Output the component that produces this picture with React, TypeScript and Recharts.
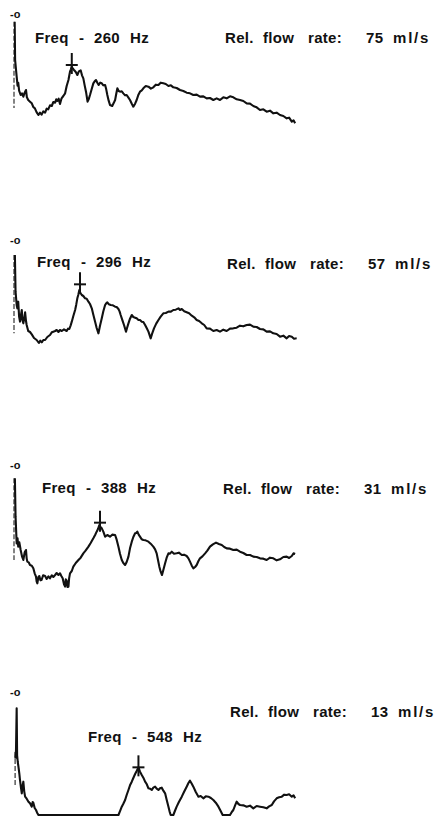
import React from 'react';
import { ComposedChart, Line, XAxis, YAxis, ReferenceDot, ReferenceLine } from 'recharts';

// Frequency (Hz) vs relative level (dB) traces
const trace260: [number, number][] = [
  [3,-2.3],[5,-13.8],[12,-18.8],[16,-21.5],[19,-20.6],[23,-23],[30,-24.3],[36,-23.8],[42,-24.8],[48,-23.6],[54,-22.8],[58,-25],[64,-25.8],[72,-26.3],[80,-26.8],[87,-27.9],[94,-28.3],[102,-29.5],[110,-30.3],[117,-29.6],[124,-30.2],[132,-29.2],[140,-29.6],[147,-28.4],[154,-28.6],[162,-27.4],[170,-27.6],[177,-26.4],[185,-26.6],[190,-25.6],[195,-26.1],[201,-25.4],[207,-27.0],[214,-25.3],[222,-24.6],[230,-23.8],[237,-21.6],[245,-19.8],[252,-17.3],[256,-16.6],[260,-15.8],[265,-16.4],[270,-16.8],[278,-17.4],[285,-18.3],[292,-17.2],[300,-16.9],[306,-18.4],[312,-19.3],[318,-21.4],[324,-23.3],[331,-26.3],[336,-25.6],[342,-24.3],[350,-22.4],[357,-20.8],[363,-20.2],[369,-19.8],[375,-20.6],[381,-21.3],[388,-20.6],[395,-20.8],[402,-21.4],[410,-21.3],[415,-22.6],[420,-24.3],[426,-26],[432,-27.3],[442,-27.6],[448,-26.8],[455,-25.8],[460,-24],[465,-22.3],[471,-23.1],[477,-23.3],[485,-23.2],[492,-23.8],[500,-24.4],[507,-24.3],[515,-25.1],[522,-25.8],[530,-26.9],[537,-27.8],[545,-26.9],[552,-25.8],[560,-24.2],[567,-23.3],[575,-22.9],[582,-22.3],[593,-21.6],[605,-21.8],[616,-22.4],[627,-22.0],[638,-21.2],[650,-21.3],[660,-20.6],[672,-20.8],[683,-21.0],[695,-21.6],[706,-21.4],[717,-22.0],[732,-22.2],[747,-22.8],[762,-23.1],[777,-23.6],[792,-23.8],[807,-24.3],[822,-24.2],[837,-24.8],[852,-24.7],[867,-25.3],[882,-25.2],[897,-25.8],[912,-25.3],[927,-25.8],[942,-25.0],[957,-25.3],[972,-24.7],[987,-25.0],[1002,-25.6],[1017,-25.8],[1032,-26.1],[1047,-26.8],[1062,-26.9],[1077,-27.6],[1092,-28.0],[1107,-28.8],[1122,-28.6],[1137,-29.3],[1152,-29.0],[1167,-29.8],[1182,-29.6],[1197,-30.3],[1212,-30.6],[1227,-31.3],[1238,-31.1],[1250,-32.3],[1258,-31.9],[1265,-32.8],
];

const trace296: [number, number][] = [
  [4,-4.5],[7,-15.5],[12,-19.5],[15,-20.5],[19,-18.5],[23,-23.0],[27,-24.5],[31,-22.6],[35,-21.0],[38,-24.0],[42,-25.0],[46,-23.5],[50,-21.7],[54,-24.3],[57,-25.5],[64,-27.3],[72,-27.6],[80,-28.3],[90,-29.4],[102,-30.0],[112,-30.9],[118,-30.2],[125,-30.7],[132,-30.0],[140,-30.0],[150,-29.1],[162,-28.5],[170,-27.7],[177,-27.5],[185,-27.3],[192,-27.0],[200,-27.6],[207,-27.0],[215,-27.3],[225,-26.8],[237,-27.3],[243,-26.6],[249,-26.7],[255,-25.6],[260,-24.5],[267,-22.8],[275,-21.0],[280,-19.4],[285,-17.5],[290,-16.3],[294,-15.0],[299,-15.9],[305,-16.5],[312,-16.8],[320,-17.5],[327,-17.6],[335,-18.5],[342,-19.2],[350,-20.5],[357,-22.4],[365,-24.5],[372,-26.4],[380,-28.0],[387,-25.7],[395,-23.5],[402,-21.4],[410,-19.5],[415,-19.0],[420,-18.7],[427,-19.3],[435,-19.5],[445,-19.6],[455,-20.0],[462,-20.1],[470,-20.7],[475,-21.4],[480,-22.5],[488,-24.1],[495,-25.5],[504,-27.5],[510,-26.1],[515,-25.0],[522,-23.6],[530,-22.5],[537,-23.1],[545,-23.3],[552,-23.5],[560,-24.0],[567,-24.0],[575,-24.5],[582,-24.6],[590,-25.5],[597,-26.4],[605,-27.5],[615,-29.5],[622,-28.0],[630,-26.5],[640,-25.1],[650,-24.0],[660,-23.0],[672,-22.0],[683,-21.9],[695,-21.5],[706,-21.5],[717,-21.0],[728,-20.9],[740,-20.5],[747,-21.0],[755,-20.7],[766,-21.4],[777,-21.7],[788,-22.0],[800,-22.7],[811,-23.2],[822,-24.0],[833,-24.3],[845,-25.0],[856,-25.5],[867,-26.5],[882,-26.6],[897,-27.3],[912,-27.0],[927,-27.5],[942,-26.9],[957,-27.3],[972,-26.6],[987,-26.5],[1002,-26.3],[1017,-25.7],[1032,-25.9],[1047,-25.5],[1062,-25.4],[1077,-26.0],[1092,-26.1],[1107,-26.7],[1122,-26.8],[1137,-27.5],[1152,-27.4],[1167,-28.0],[1182,-28.2],[1197,-29.0],[1212,-28.7],[1227,-29.5],[1238,-28.8],[1250,-29.0],[1260,-29.6],[1272,-29.5],
];

const trace388: [number, number][] = [
  [4,-4.0],[7,-15.5],[12,-23.5],[16,-22.0],[19,-24.5],[24,-23.2],[30,-25.5],[36,-27.4],[42,-28.5],[48,-26.2],[54,-25.5],[57,-28.0],[60,-29.0],[66,-29.2],[72,-30.0],[80,-30.2],[87,-31.0],[93,-32.5],[99,-33.5],[102,-35.0],[105,-35.5],[110,-33.6],[114,-33.3],[119,-34.6],[124,-34.5],[131,-33.1],[140,-33.3],[147,-34.2],[155,-33.4],[162,-34.0],[170,-33.1],[177,-33.6],[185,-33.0],[192,-32.4],[200,-33.0],[207,-32.5],[213,-33.3],[219,-34.0],[225,-35.8],[230,-36.5],[233,-34.3],[237,-34.7],[241,-36.6],[245,-36.5],[248,-34.0],[252,-32.5],[260,-31.8],[267,-30.5],[278,-29.4],[290,-28.5],[300,-27.8],[312,-26.5],[322,-25.7],[335,-24.5],[345,-23.4],[357,-22.0],[365,-21.0],[372,-20.0],[378,-19.2],[384,-18.0],[389,-18.6],[395,-19.0],[402,-20.0],[410,-21.5],[420,-21.0],[432,-21.5],[442,-20.9],[455,-21.0],[462,-22.4],[470,-24.5],[477,-26.6],[485,-28.5],[492,-29.4],[500,-30.0],[507,-29.1],[515,-27.5],[522,-25.0],[530,-23.0],[537,-21.6],[545,-20.5],[550,-20.4],[555,-20.0],[561,-20.9],[567,-21.5],[575,-22.3],[582,-22.5],[592,-22.6],[605,-23.0],[615,-23.6],[627,-24.5],[635,-25.3],[642,-26.5],[648,-28.5],[654,-30.5],[660,-32.0],[666,-33.0],[672,-31.5],[680,-29.5],[687,-27.8],[695,-26.5],[702,-26.6],[710,-26.0],[720,-26.6],[732,-26.5],[742,-26.3],[755,-27.0],[765,-26.9],[777,-27.3],[785,-28.0],[792,-29.0],[800,-30.2],[807,-31.0],[815,-30.6],[822,-30.0],[830,-28.8],[837,-28.0],[848,-27.4],[860,-26.5],[870,-25.7],[882,-24.5],[895,-23.8],[909,-23.3],[922,-23.7],[935,-24.0],[946,-24.6],[957,-25.0],[972,-25.1],[987,-25.5],[1002,-25.4],[1017,-26.0],[1032,-26.4],[1047,-27.0],[1062,-27.0],[1077,-27.5],[1092,-27.6],[1107,-28.0],[1122,-28.1],[1137,-28.5],[1152,-27.8],[1167,-28.0],[1182,-28.6],[1197,-28.3],[1212,-27.6],[1227,-27.5],[1238,-27.9],[1250,-27.3],[1258,-26.5],[1265,-26.7],
];

const trace548: [number, number][] = [
  [6,-20.0],[9,-17.5],[12,-4.9],[14,-19.0],[17,-21.0],[20,-22.4],[24,-24.5],[27,-26.4],[31,-28.5],[35,-30.4],[39,-28.0],[42,-26.9],[46,-29.8],[50,-31.4],[57,-32.0],[65,-32.9],[72,-33.4],[80,-34.4],[84,-33.0],[87,-33.2],[93,-34.8],[99,-35.4],[104,-36.2],[110,-36.9],[470,-36.9],[478,-35.6],[485,-34.4],[492,-33.5],[500,-32.4],[507,-30.9],[515,-29.4],[522,-28.0],[530,-26.9],[537,-25.8],[545,-24.6],[552,-23.7],[560,-22.6],[567,-23.9],[575,-24.9],[582,-25.7],[590,-26.9],[597,-27.6],[605,-28.9],[612,-29.0],[620,-29.4],[627,-28.7],[635,-28.4],[642,-29.0],[650,-29.4],[657,-28.9],[665,-28.7],[672,-29.6],[680,-30.4],[687,-32.3],[695,-34.4],[700,-35.8],[705,-36.9],[717,-36.9],[724,-35.7],[732,-34.4],[742,-33.0],[755,-31.4],[765,-30.0],[777,-28.4],[785,-27.3],[792,-26.6],[800,-27.5],[807,-28.4],[818,-30.0],[830,-31.4],[840,-31.2],[852,-31.9],[863,-31.3],[875,-31.4],[886,-31.8],[897,-32.4],[908,-33.2],[920,-34.4],[930,-35.7],[939,-36.9],[972,-36.9],[980,-36.0],[987,-35.4],[995,-34.0],[1002,-32.9],[1010,-33.6],[1017,-33.9],[1032,-34.0],[1047,-34.4],[1062,-34.1],[1077,-34.9],[1092,-34.2],[1107,-34.4],[1122,-34.6],[1137,-34.9],[1148,-34.3],[1160,-33.9],[1170,-32.8],[1182,-31.9],[1193,-31.6],[1205,-31.4],[1216,-30.8],[1227,-30.9],[1238,-30.7],[1250,-31.4],[1258,-31.0],[1265,-31.9],
];

const peakFreqLabels = ['260', '296', '388', '548'];
const flowRateLabels = ['75', '57', '31', '13'];
// "+" marker positions (Hz, dB)
const markerFreq = [260, 297, 387, 560];
const markerDb = [-15.3, -13.3, -17.3, -22.6];
// faint vertical baseline segment (Hz, dB top, dB bottom)
const axisFreq = [0, 0, 0, 5];
const axisTopDb = [-2.3, -4.5, -4.0, -18.0];
const axisBottomDb = [-28.2, -28.0, -28.5, -28.4];

const traces = [trace260, trace296, trace388, trace548];

// layout (page px)
const LAYOUT = [
  { y0: 14, freqX: 35, freqDy: 29, relX: 225, relDy: 29 },
  { y0: 240, freqX: 37, freqDy: 27, relX: 227, relDy: 29 },
  { y0: 465, freqX: 42, freqDy: 28, relX: 223, relDy: 29 },
  { y0: 692, freqX: 88, freqDy: 50, relX: 230, relDy: 25 },
];

const TOP = 14;
const PLOT_H = 125;
const FONT = '"Liberation Sans", Arial, Helvetica, sans-serif';

const PlusMark = (props: any) => {
  const { cx, cy } = props;
  if (cx == null || cy == null) return null;
  return (
    <g>
      <line x1={cx} x2={cx} y1={cy - 12} y2={cy + 9} stroke="#111" strokeWidth={2} />
      <line x1={cx - 6} x2={cx + 6} y1={cy} y2={cy} stroke="#111" strokeWidth={2} />
    </g>
  );
};

const txt = { fontFamily: FONT, fontWeight: 700, fontSize: 15, fill: '#111', letterSpacing: 0.3 } as const;

function Panel({ i }: { i: number }) {
  const L = LAYOUT[i];
  const rows = traces[i].map(([f, db]) => ({ f, db }));
  const fy = TOP + L.freqDy;
  const ry = TOP + L.relDy;
  return (
    <div style={{ position: 'absolute', left: 0, top: L.y0 - TOP }}>
      <ComposedChart width={440} height={TOP + PLOT_H + 4} data={rows} margin={{ top: TOP, right: 126, bottom: 4, left: 14 }}>
        <XAxis dataKey="f" type="number" domain={[0, 1350]} allowDataOverflow hide />
        <YAxis type="number" domain={[-37.5, 0]} allowDataOverflow hide />
        <ReferenceLine
          segment={[{ x: axisFreq[i], y: axisTopDb[i] }, { x: axisFreq[i], y: axisBottomDb[i] }]}
          stroke="#333"
          strokeWidth={1.2}
          strokeDasharray="5 2"
          ifOverflow="visible"
        />
        <Line type="linear" dataKey="db" stroke="#111" strokeWidth={2.1} dot={false} isAnimationActive={false} strokeLinejoin="round" />
        <ReferenceDot x={markerFreq[i]} y={markerDb[i]} shape={PlusMark} ifOverflow="visible" />
        <text x={10} y={TOP + 4} style={{ fontFamily: FONT, fontWeight: 700, fontSize: 11, fill: '#111' }}>-o</text>
        <text x={L.freqX} y={fy} style={txt}>Freq</text>
        <text x={L.freqX + 44} y={fy} style={txt}>-</text>
        <text x={L.freqX + 59} y={fy} style={txt}>{peakFreqLabels[i]}</text>
        <text x={L.freqX + 95} y={fy} style={txt}>Hz</text>
        <text x={L.relX} y={ry} style={txt}>Rel.</text>
        <text x={L.relX + 38} y={ry} style={txt}>flow</text>
        <text x={L.relX + 83} y={ry} style={txt}>rate:</text>
        <text x={L.relX + 141} y={ry} style={txt}>{flowRateLabels[i]}</text>
        <text x={L.relX + 168} y={ry} style={{ ...txt, letterSpacing: 1.8 }}>ml/s</text>
      </ComposedChart>
    </div>
  );
}

export default function App() {
  return (
    <div style={{ position: 'absolute', left: 0, top: 0, width: 440, height: 817, background: '#fff', overflow: 'hidden' }}>
      {[0, 1, 2, 3].map((i) => (
        <Panel key={i} i={i} />
      ))}
    </div>
  );
}
